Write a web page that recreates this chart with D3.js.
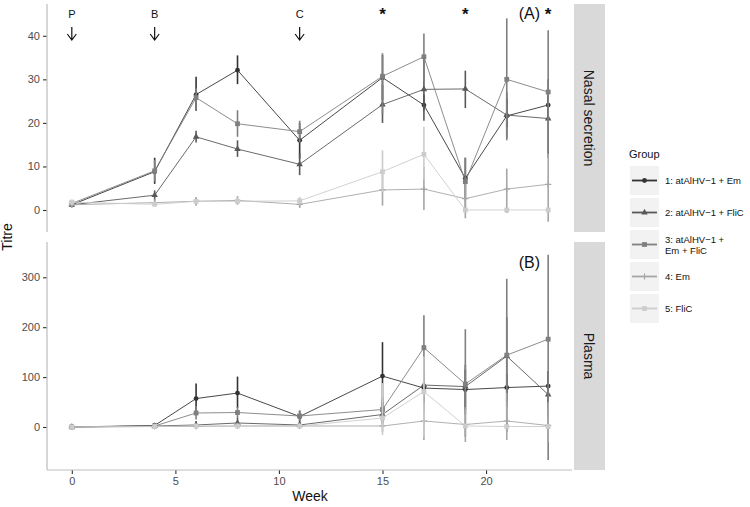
<!DOCTYPE html>
<html><head><meta charset="utf-8">
<script src="https://cdn.jsdelivr.net/npm/d3@7/dist/d3.min.js"></script>
<style>body{margin:0;background:#fff;} text{font-family:"Liberation Sans",Arial,sans-serif;}</style>
</head><body>
<svg id="c" width="750" height="507"></svg>
<script>
const weeks = [0, 4, 6, 8, 11, 15, 17, 19, 21, 23];
const groupNames = ["1: atAlHV\u22121 + Em", "2: atAlHV\u22121 + FliC", "3: atAlHV\u22121 +|Em + FliC", "4: Em", "5: FliC"];
const groupColors = ["#333333", "#595959", "#7f7f7f", "#a6a6a6", "#cccccc"];
const groupShapes = ["circle", "triangle", "square", "plus", "square"];
const panelNames = ["Nasal secretion", "Plasma"];

const nasalMean = [
  [1.2, 8.8, 26.5, 32.1, 16.0, 30.4, 24.1, 7.3, 21.6, 24.1],
  [1.2, 3.4, 16.8, 14.0, 10.5, 24.2, 27.7, 27.8, 21.8, 21.0],
  [1.5, 9.0, 25.8, 19.8, 18.0, 30.7, 35.2, 6.5, 30.0, 27.1],
  [1.2, 1.7, 2.0, 2.2, 1.3, 4.6, 4.8, 2.6, 4.8, 5.9],
  [1.8, 1.3, 2.0, 2.0, 2.1, 8.8, 12.8, 0, 0, 0]
];
const nasalLow = [
  [0.8, 6.0, 22.8, 28.9, 11.8, 25.2, 22.8, 2.5, 19.0, 20.5],
  [0.8, 2.2, 15.5, 12.2, 8.0, 20.0, 20.5, 23.4, 16.5, 12.0],
  [0.8, 6.5, 23.0, 16.8, 15.5, 22.0, 29.5, 0, 16.0, 13.0],
  [0.5, 1.0, 1.0, 1.2, 0.5, 1.0, 0.0, -1.9, -0.7, -2.7],
  [1.2, 1.0, 1.5, 1.5, 1.3, 4.0, 7.0, 0, 0, 0]
];
const nasalHigh = [
  [1.6, 12.0, 30.6, 35.5, 20.0, 35.6, 26.5, 12.0, 25.5, 27.5],
  [1.6, 4.5, 18.2, 16.0, 13.0, 28.7, 35.0, 32.0, 27.0, 30.0],
  [2.2, 11.5, 28.0, 22.9, 20.5, 36.0, 40.5, 12.0, 44.0, 41.3],
  [2.0, 2.5, 3.0, 3.2, 2.5, 9.0, 10.0, 6.0, 9.5, 13.0],
  [2.4, 1.8, 2.5, 2.8, 3.0, 13.7, 19.1, 0, 0, 0]
];
const plasmaMean = [
  [0, 3, 57, 68, 21, 102, 78, 75, 79, 82],
  [0, 2, 4, 8, 4, 25, 84, 81, 142, 65],
  [0, 2, 28, 29, 22, 35, 159, 86, 144, 176],
  [0, 1, 1, 2, 2, 2, 12, 5, 12, 3],
  [0, 1, 2, 2, 2, 18, 71, 2, 1, 1]
];
const plasmaLow = [
  [0, 0, 28, 38, 8, 34, 40, 35, 52, 40],
  [0, 0, 0, 0, 0, 5, 30, 25, 40, 20],
  [0, 0, 15, 18, 12, 10, 60, -20, -10, -66],
  [0, 0, 0, 0, 0, -10, -26, -30, -26, -30],
  [0, 0, 0, 0, 0, -16, -20, 0, 0, 0]
];
const plasmaHigh = [
  [0, 8, 87, 101, 33, 170, 110, 115, 106, 112],
  [0, 5, 12, 18, 10, 50, 140, 125, 220, 110],
  [0, 5, 42, 40, 32, 60, 224, 196, 297, 345],
  [0, 3, 5, 8, 6, 15, 50, 40, 68, 50],
  [0, 3, 5, 5, 5, 88, 141, 5, 3, 3]
];
const nasalTicks = [0, 10, 20, 30, 40];
const plasmaTicks = [0, 100, 200, 300];
const weekTicks = [0, 5, 10, 15, 20];
const vaccinations = [{week: 0, label: "P"}, {week: 4, label: "B"}, {week: 11, label: "C"}];
const starWeeks = [15, 19, 23];

const svg = d3.select("#c");
const x = d3.scaleLinear().domain([-1.15, 24.15]).range([48, 572]);
const panels = [
  {name: panelNames[0], mean: nasalMean, low: nasalLow, high: nasalHigh, ticks: nasalTicks,
   y: d3.scaleLinear().domain([-5.05, 47.3]).range([232, 4]), top: 4, bottom: 232, tag: "(A)"},
  {name: panelNames[1], mean: plasmaMean, low: plasmaLow, high: plasmaHigh, ticks: plasmaTicks,
   y: d3.scaleLinear().domain([-86.2, 370.7]).range([470, 242]), top: 242, bottom: 470, tag: "(B)"}
];

function drawShape(g, shape, cx, cy, color, s) {
  if (shape === "circle") g.append("circle").attr("cx", cx).attr("cy", cy).attr("r", s).attr("fill", color);
  else if (shape === "square") g.append("rect").attr("x", cx - s).attr("y", cy - s).attr("width", 2*s).attr("height", 2*s).attr("fill", color);
  else if (shape === "triangle") g.append("path").attr("d", d3.symbol(d3.symbolTriangle, s*s*3.2)()).attr("transform", `translate(${cx},${cy})`).attr("fill", color);
  else if (shape === "plus") g.append("path").attr("d", `M${cx-s*1.3},${cy}H${cx+s*1.3}M${cx},${cy-s*1.3}V${cy+s*1.3}`).attr("stroke", color).attr("stroke-width", 1.2);
}

panels.forEach(p => {
  const g = svg.append("g");
  // strip
  g.append("rect").attr("x", 574).attr("y", p.top).attr("width", 31).attr("height", p.bottom - p.top).attr("fill", "#d9d9d9");
  g.append("text").attr("transform", `translate(589,${(p.top + p.bottom)/2}) rotate(90)`)
    .attr("text-anchor", "middle").attr("dominant-baseline", "central").attr("font-size", 14).attr("fill", "#1a1a1a").text(p.name);
  // y axis
  const ya = d3.axisLeft(p.y).tickValues(p.ticks).tickSize(4).tickPadding(3);
  const yg = g.append("g").attr("transform", "translate(47,0)").call(ya);
  yg.select(".domain").remove();
  yg.selectAll(".tick line").attr("stroke", "#333").attr("stroke-width", 1.1);
  yg.selectAll(".tick text").attr("font-size", 11).attr("fill", "#4d4d4d").attr("font-family", "Liberation Sans, Arial, sans-serif");
  g.append("line").attr("x1", 47).attr("x2", 47).attr("y1", p.top).attr("y2", p.bottom).attr("stroke", "#bdbdbd").attr("stroke-width", 1.2);

  const plot = g.append("g");
  const line = d3.line().x((d, i) => x(weeks[i])).y(d => p.y(d));
  p.mean.forEach((vals, gi) => {
    const c = groupColors[gi];
    // error bars
    vals.forEach((v, i) => {
      plot.append("line").attr("x1", x(weeks[i])).attr("x2", x(weeks[i]))
        .attr("y1", p.y(p.low[gi][i])).attr("y2", p.y(p.high[gi][i]))
        .attr("stroke", c).attr("stroke-width", 1.6);
    });
    plot.append("path").datum(vals).attr("d", line).attr("fill", "none").attr("stroke", c).attr("stroke-width", 0.9);
    vals.forEach((v, i) => drawShape(plot, groupShapes[gi], x(weeks[i]), p.y(v), c, 2.4));
  });
  g.append("text").attr("x", 540).attr("y", p.top + (p.tag === "(A)" ? 15 : 26)).attr("text-anchor", "end")
    .attr("font-size", 16).attr("fill", "#111").text(p.tag);
});

// x axis (bottom panel)
const xa = d3.axisBottom(x).tickValues(weekTicks).tickSize(4).tickPadding(3);
const xg = svg.append("g").attr("transform", "translate(0,470)").call(xa);
xg.select(".domain").remove();
xg.selectAll(".tick line").attr("stroke", "#333").attr("stroke-width", 1.1);
xg.selectAll(".tick text").attr("font-size", 11).attr("fill", "#4d4d4d").attr("font-family", "Liberation Sans, Arial, sans-serif");
svg.append("line").attr("x1", 47).attr("x2", 572).attr("y1", 470).attr("y2", 470).attr("stroke", "#bdbdbd").attr("stroke-width", 1.2);

// annotations
vaccinations.forEach(v => {
  const cx = x(v.week);
  svg.append("text").attr("x", cx).attr("y", 18).attr("text-anchor", "middle").attr("font-size", 11).attr("fill", "#111").text(v.label);
  svg.append("path").attr("d", `M${cx},27V40M${cx-4.5},34L${cx},40L${cx+4.5},34`).attr("fill", "none").attr("stroke", "#111").attr("stroke-width", 1.2);
});
starWeeks.forEach(w => {
  svg.append("text").attr("x", x(w)).attr("y", 20).attr("text-anchor", "middle").attr("font-size", 17).attr("font-weight", "bold").attr("fill", "#111").text("*");
});

// axis titles
svg.append("text").attr("transform", "translate(12,237) rotate(-90)").attr("text-anchor", "middle").attr("font-size", 14).attr("fill", "#111").text("Titre");
svg.append("text").attr("x", 310).attr("y", 501).attr("text-anchor", "middle").attr("font-size", 14).attr("fill", "#111").text("Week");

// legend
const lg = svg.append("g");
lg.append("text").attr("x", 629).attr("y", 158).attr("font-size", 11).attr("fill", "#111").text("Group");
groupNames.forEach((n, i) => {
  const ky = 166 + i * 32;
  lg.append("rect").attr("x", 630).attr("y", ky).attr("width", 29).attr("height", 29).attr("fill", "#f2f2f2");
  lg.append("line").attr("x1", 632).attr("x2", 657).attr("y1", ky + 14.5).attr("y2", ky + 14.5).attr("stroke", groupColors[i]).attr("stroke-width", 1.8);
  drawShape(lg, groupShapes[i], 644.5, ky + 14.5, groupColors[i], 2.4);
  const parts = n.split("|");
  parts.forEach((t, j) => {
    lg.append("text").attr("x", 665).attr("y", ky + 14.5 + (j - (parts.length - 1) / 2) * 11).attr("dominant-baseline", "central")
      .attr("font-size", 9.5).attr("fill", "#111").text(t);
  });
});
</script>
</body></html>
